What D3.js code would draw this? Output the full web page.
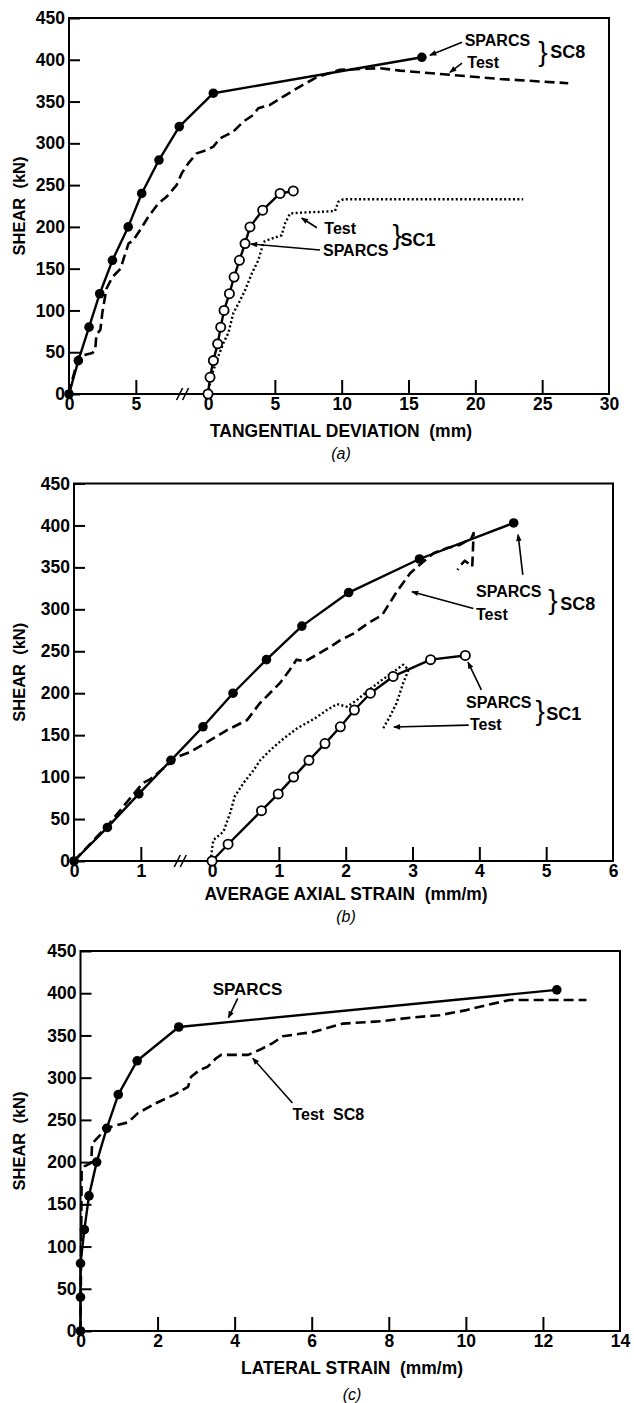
<!DOCTYPE html>
<html>
<head>
<meta charset="utf-8">
<script src="https://cdn.jsdelivr.net/npm/d3@7"></script>
<style>
  body { margin: 0; background: #fff; }
  svg { display: block; }
  text { font-family: "Liberation Sans", Arial, Helvetica, sans-serif; fill: #000; }
</style>
</head>
<body>
<div id="chart"></div>
<script>
const width = 634
const height = 1403

const shearTicks = [0, 50, 100, 150, 200, 250, 300, 350, 400, 450]

// (a) tangential deviation (mm) vs shear (kN)
const aSc8Ticks = [0, 5]
const aSc1Ticks = [0, 5, 10, 15, 20, 25, 30]
const aSc8Sparcs = [[0,0],[0.7,40],[1.5,80],[2.3,120],[3.25,160],[4.43,200],[5.44,240],[6.73,280],[8.25,320],[10.8,360],[26.4,403]]
const aSc8Test = [[0,0],[0.3,20],[0.55,35],[0.7,45],[1.75,49],[1.96,53],[2.05,71],[2.35,77],[2.5,98],[2.8,126],[3.25,140],[3.85,150],[4.45,180],[4.81,184],[5.31,196],[5.93,212],[6.68,228],[7.3,236],[8.05,250],[8.43,264],[8.92,276],[9.55,288],[10.3,292],[10.8,296],[11.3,306],[12.29,314],[13.04,326],[13.79,334],[14.16,342],[15.03,346],[16.03,356],[17.28,368],[18.53,379],[20.27,388],[23.26,390],[24.76,387],[28.5,382],[32.24,377],[37.35,372]]
const aSc1Sparcs = [[0,0],[0.15,20],[0.4,40],[0.72,60],[0.95,80],[1.2,100],[1.6,120],[1.95,140],[2.35,160],[2.77,180],[3.14,200],[4.09,220],[5.39,240],[6.38,243]]
const aSc1Test = [[0,0],[0.28,23],[0.77,45],[1.15,61],[1.52,73],[1.9,97],[2.27,108],[2.77,124],[3.27,144],[3.76,160],[4.02,174],[4.14,182],[4.76,186],[5.51,190],[5.76,204],[6.13,216],[6.88,217],[8.38,218],[9.5,219],[9.75,230],[10.12,233],[23.58,233]]

// (b) average axial strain (mm/m) vs shear (kN)
const bSc8Ticks = [0, 1]
const bSc1Ticks = [0, 1, 2, 3, 4, 5, 6]
const bSc8Sparcs = [[0,0],[0.5,40],[0.97,80],[1.45,120],[1.93,160],[2.38,200],[2.88,240],[3.41,280],[4.11,320],[5.17,360],[6.58,403]]
const bSc8Test = [[0,0],[0.5,42],[1.03,93],[1.15,98],[1.42,116],[1.54,124],[1.74,130],[2.04,144],[2.29,156],[2.59,168],[2.78,188],[2.93,200],[3.08,212],[3.23,228],[3.33,240],[3.46,238],[3.68,248],[3.83,255],[3.98,263],[4.18,271],[4.43,285],[4.61,293],[4.83,321],[5.03,343],[5.2,355],[5.38,367],[5.58,373],[5.78,377],[5.95,385],[5.98,391],[5.96,351],[5.85,358],[5.78,352],[5.74,347]]
const bSc1Sparcs = [[0,0],[0.24,20],[0.74,60],[0.99,80],[1.22,100],[1.45,120],[1.69,140],[1.92,160],[2.13,180],[2.37,200],[2.71,220],[3.27,240],[3.79,245]]
const bSc1Test = [[-0.02,0],[0,15],[0.02,25],[0.17,35],[0.27,57],[0.34,77],[0.47,93],[0.62,108],[0.72,120],[0.87,132],[1.04,144],[1.27,158],[1.54,170],[1.72,180],[1.87,187],[2.02,184],[2.17,192],[2.32,202],[2.51,214],[2.69,224],[2.86,234],[2.94,228],[2.86,212],[2.76,188],[2.66,172],[2.56,158]]

// (c) lateral strain (mm/m) vs shear (kN)
const cTicks = [0, 2, 4, 6, 8, 10, 12, 14]
const cSparcs = [[0,0],[0,40],[0,80],[0.1,120],[0.22,160],[0.42,200],[0.68,240],[0.98,280],[1.47,320],[2.55,360],[12.36,404]]
const cTest = [[0,0],[0.03,190],[0.1,195],[0.28,199],[0.3,222],[0.49,231],[0.67,240],[0.88,243],[1.23,247],[1.49,258],[1.97,270],[2.44,280],[2.79,289],[2.87,301],[3.09,309],[3.3,313],[3.52,323],[3.65,327],[4.35,327],[4.65,333],[4.99,341],[5.25,349],[5.69,352],[6.03,354],[6.81,364],[7.85,367],[8.55,371],[9.32,374],[10.02,380],[10.54,386],[11.14,392],[13.13,392]]

const FONT = '"Liberation Sans", Arial, Helvetica, sans-serif'

const svg = d3.select('#chart')
    .append('svg')
    .attr('width', width)
    .attr('height', height)
    .attr('viewBox', `0 0 ${width} ${height}`)

svg.append('defs').append('marker')
    .attr('id', 'arrow')
    .attr('viewBox', '0 0 10 10')
    .attr('refX', 9)
    .attr('refY', 5)
    .attr('markerWidth', 10)
    .attr('markerHeight', 7)
    .attr('markerUnits', 'userSpaceOnUse')
    .attr('orient', 'auto')
    .append('path')
    .attr('d', 'M0,1L10,5L0,9Z')

function frame(g, box) {
    g.append('rect')
        .attr('x', box.left)
        .attr('y', box.top)
        .attr('width', box.right - box.left)
        .attr('height', box.bottom - box.top)
        .attr('fill', 'none')
        .attr('stroke', '#000')
        .attr('stroke-width', 2)
}

function styleAxis(ax) {
    ax.attr('font-family', FONT).attr('font-size', 17.5).attr('font-weight', 'bold')
    ax.selectAll('.tick line').attr('stroke-width', 2)
}

function yAxis(g, y, box) {
    const ax = g.append('g')
        .attr('transform', `translate(${box.left},0)`)
        .call(d3.axisLeft(y).tickValues(shearTicks).tickSizeInner(-11).tickSizeOuter(0).tickPadding(4))
    styleAxis(ax)
    ax.select('.domain').remove()
}

function xAxis(g, x, ticks, box, hide) {
    const ax = g.append('g')
        .attr('transform', `translate(0,${box.bottom})`)
        .call(d3.axisBottom(x).tickValues(ticks).tickSizeInner(-14).tickSizeOuter(0).tickPadding(4))
    styleAxis(ax)
    ax.select('.domain').remove()
    ax.selectAll('.tick line').filter(d => hide.includes(d)).remove()
}

function titles(g, box, xTitle, xLen, xc, yc, tag, tagY) {
    g.append('text')
        .attr('transform', `translate(25,${(box.top + box.bottom) / 2}) rotate(-90)`)
        .attr('text-anchor', 'middle')
        .attr('font-size', 16.5)
        .attr('font-weight', 'bold')
        .style('white-space', 'pre')
        .text('SHEAR  (kN)')
    g.append('text')
        .attr('x', xc)
        .attr('y', yc)
        .attr('text-anchor', 'middle')
        .attr('font-size', 17.5)
        .attr('font-weight', 'bold')
        .attr('textLength', xLen)
        .attr('lengthAdjust', 'spacingAndGlyphs')
        .style('white-space', 'pre')
        .text(xTitle)
    g.append('text')
        .attr('x', xc)
        .attr('y', tagY)
        .attr('text-anchor', 'middle')
        .attr('font-size', 16)
        .attr('font-style', 'italic')
        .text(tag)
}

function curve(g, x, y, data, kind) {
    const line = d3.line().x(d => x(d[0])).y(d => y(d[1]))
    const p = g.append('path')
        .datum(data)
        .attr('d', line)
        .attr('fill', 'none')
        .attr('stroke', '#000')
        .attr('stroke-linejoin', 'round')
    if (kind === 'solid') p.attr('stroke-width', 2.4)
    if (kind === 'dash') p.attr('stroke-width', 2.6).attr('stroke-dasharray', '10,5')
    if (kind === 'dot') p.attr('stroke-width', 2.4).attr('stroke-dasharray', '2,2.4')
}

function dots(g, x, y, data, open) {
    g.selectAll(null)
        .data(data)
        .join('circle')
        .attr('cx', d => x(d[0]))
        .attr('cy', d => y(d[1]))
        .attr('r', open ? 4.6 : 4.8)
        .attr('fill', open ? '#fff' : '#000')
        .attr('stroke', '#000')
        .attr('stroke-width', open ? 1.8 : 0)
}

function label(g, x, y, at, txt, size) {
    g.append('text')
        .attr('x', x(at[0]))
        .attr('y', y(at[1]))
        .attr('font-size', size || 16)
        .attr('font-weight', 'bold')
        .style('white-space', 'pre')
        .text(txt)
}

function brace(g, x, y, at) {
    g.append('text')
        .attr('x', x(at[0]))
        .attr('y', y(at[1]))
        .attr('dy', '0.27em')
        .attr('font-size', 28)
        .attr('font-family', '"DejaVu Sans", sans-serif')
        .attr('font-weight', 200)
        .text('}')
}

function arrow(g, x, y, from, to) {
    g.append('line')
        .attr('x1', x(from[0]))
        .attr('y1', y(from[1]))
        .attr('x2', x(to[0]))
        .attr('y2', y(to[1]))
        .attr('stroke', '#000')
        .attr('stroke-width', 1.6)
        .attr('marker-end', 'url(#arrow)')
}

function breakMark(g, px, py) {
    [-3, 3].forEach(dx => {
        g.append('line')
            .attr('x1', px + dx - 3).attr('y1', py + 6)
            .attr('x2', px + dx + 3).attr('y2', py - 6)
            .attr('stroke', '#000').attr('stroke-width', 1.6)
    })
}

// ---------- (a) ----------
{
    const box = {left: 69, right: 609, top: 18, bottom: 394}
    const g = svg.append('g')
    const y = d3.scaleLinear().domain([0, 450]).range([box.bottom, box.top])
    const x8 = d3.scaleLinear().domain([0, 40.4]).range([box.left, box.right])
    const x1 = d3.scaleLinear().domain([-10.4, 30]).range([box.left, box.right])

    frame(g, box)
    yAxis(g, y, box)
    xAxis(g, x8, aSc8Ticks, box, [0])
    xAxis(g, x1, aSc1Ticks, box, [0, 30])
    breakMark(g, x8(8.5), box.bottom)
    titles(g, box, 'TANGENTIAL DEVIATION  (mm)', 262, 341, 437, '(a)', 459)

    curve(g, x8, y, aSc8Test, 'dash')
    curve(g, x1, y, aSc1Test, 'dot')
    curve(g, x8, y, aSc8Sparcs, 'solid')
    curve(g, x1, y, aSc1Sparcs, 'solid')
    dots(g, x8, y, aSc8Sparcs, false)
    dots(g, x1, y, aSc1Sparcs, true)

    label(g, x1, y, [19.2, 417], 'SPARCS')
    label(g, x1, y, [19.4, 390], 'Test')
    brace(g, x1, y, [24.7, 408])
    label(g, x1, y, [25.6, 402], 'SC8', 18)
    arrow(g, x1, y, [19.0, 421], [16.6, 405.5])
    arrow(g, x1, y, [19.0, 396], [18.1, 385])

    label(g, x1, y, [8.7, 191.5], 'Test')
    label(g, x1, y, [8.6, 165], 'SPARCS')
    brace(g, x1, y, [13.8, 188])
    label(g, x1, y, [14.4, 177], 'SC1', 18)
    arrow(g, x1, y, [8.15, 199], [7.0, 210.6])
    arrow(g, x1, y, [8.38, 172.3], [3.2, 179.5])
}

// ---------- (b) ----------
{
    const box = {left: 74, right: 613, top: 483.5, bottom: 861}
    const g = svg.append('g')
    const y = d3.scaleLinear().domain([0, 450]).range([box.bottom, box.top])
    const x8 = d3.scaleLinear().domain([0, 8.066]).range([box.left, box.right])
    const x1 = d3.scaleLinear().domain([-2.066, 6]).range([box.left, box.right])

    frame(g, box)
    yAxis(g, y, box)
    xAxis(g, x8, bSc8Ticks, box, [0])
    xAxis(g, x1, bSc1Ticks, box, [0, 6])
    breakMark(g, x8(1.59), box.bottom)
    titles(g, box, 'AVERAGE AXIAL STRAIN  (mm/m)', 283, 346, 900, '(b)', 922)

    curve(g, x8, y, bSc8Test, 'dash')
    curve(g, x1, y, bSc1Test, 'dot')
    curve(g, x8, y, bSc8Sparcs, 'solid')
    curve(g, x1, y, bSc1Sparcs, 'solid')
    dots(g, x8, y, bSc8Sparcs, false)
    dots(g, x1, y, bSc1Sparcs, true)

    label(g, x1, y, [3.95, 314.7], 'SPARCS')
    label(g, x1, y, [3.95, 287], 'Test')
    brace(g, x1, y, [5.03, 310])
    label(g, x1, y, [5.21, 299], 'SC8', 18)
    arrow(g, x1, y, [4.65, 341], [4.58, 389])
    arrow(g, x1, y, [3.91, 301], [2.99, 321])

    label(g, x1, y, [3.8, 182], 'SPARCS')
    label(g, x1, y, [3.86, 156], 'Test')
    brace(g, x1, y, [4.84, 177.6])
    label(g, x1, y, [5.0, 168], 'SC1', 18)
    arrow(g, x1, y, [4.03, 204], [3.83, 237])
    arrow(g, x1, y, [3.84, 162], [2.72, 159.7])
}

// ---------- (c) ----------
{
    const box = {left: 80.5, right: 620, top: 951, bottom: 1331}
    const g = svg.append('g')
    const y = d3.scaleLinear().domain([0, 450]).range([box.bottom, box.top])
    const x = d3.scaleLinear().domain([0, 14]).range([box.left, box.right])

    frame(g, box)
    yAxis(g, y, box)
    xAxis(g, x, cTicks, box, [0, 14])
    titles(g, box, 'LATERAL STRAIN  (mm/m)', 222, 352, 1374, '(c)', 1400)

    curve(g, x, y, cTest, 'dash')
    curve(g, x, y, cSparcs, 'solid')
    dots(g, x, y, cSparcs, false)

    label(g, x, y, [3.43, 398], 'SPARCS', 17)
    arrow(g, x, y, [4.08, 394], [3.84, 371])
    label(g, x, y, [5.5, 250], 'Test  SC8')
    arrow(g, x, y, [5.5, 270], [4.47, 323])
}
</script>
</body>
</html>
